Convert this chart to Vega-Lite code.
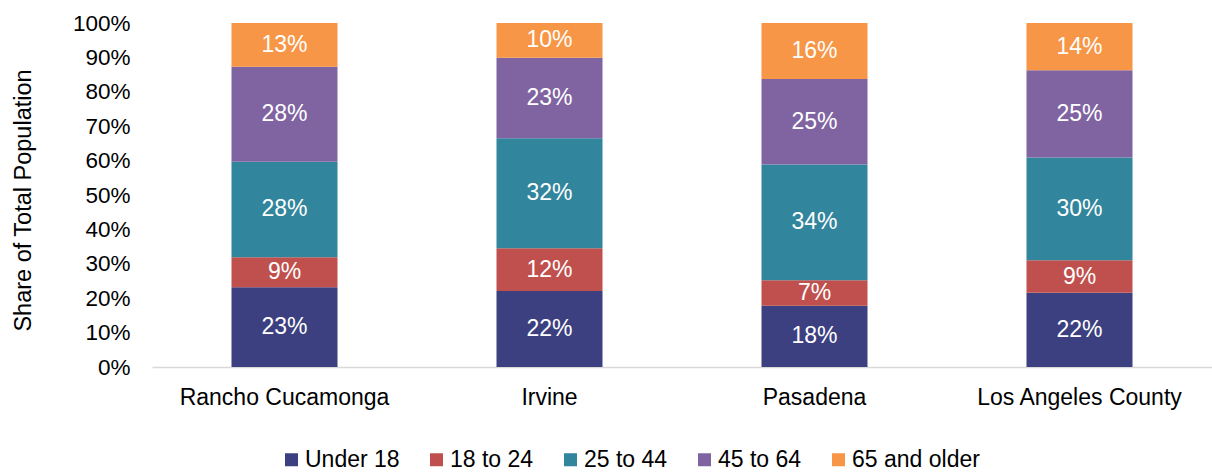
{
  "$schema": "https://vega.github.io/schema/vega-lite/v6.json",
  "width": 1060,
  "height": 344,
  "autosize": {"type": "none"},
  "padding": {"left": 152, "top": 23, "right": 0, "bottom": 105},
  "background": "white",
  "config": {
    "font": "Liberation Sans",
    "view": {"stroke": null},
    "axisY": {
      "title": "Share of Total Population",
      "titleFontSize": 23.5,
      "titleFontWeight": "normal",
      "titleColor": "#000000",
      "titleAngle": -90,
      "titleX": -122,
      "titleY": 177,
      "titleAlign": "center",
      "titleBaseline": "alphabetic",
      "labelFontSize": 22.5,
      "labelColor": "#000000",
      "labelPadding": 22,
      "labelOverlap": false,
      "ticks": false,
      "domain": false,
      "grid": false
    }
  },
  "data": {
    "values": [
      {"place": "Rancho Cucamonga", "age": "Under 18", "rank": 0, "share": 0.232},
      {"place": "Rancho Cucamonga", "age": "18 to 24", "rank": 1, "share": 0.087},
      {"place": "Rancho Cucamonga", "age": "25 to 44", "rank": 2, "share": 0.278},
      {"place": "Rancho Cucamonga", "age": "45 to 64", "rank": 3, "share": 0.276},
      {"place": "Rancho Cucamonga", "age": "65 and older", "rank": 4, "share": 0.127},
      {"place": "Irvine", "age": "Under 18", "rank": 0, "share": 0.221},
      {"place": "Irvine", "age": "18 to 24", "rank": 1, "share": 0.124},
      {"place": "Irvine", "age": "25 to 44", "rank": 2, "share": 0.320},
      {"place": "Irvine", "age": "45 to 64", "rank": 3, "share": 0.234},
      {"place": "Irvine", "age": "65 and older", "rank": 4, "share": 0.101},
      {"place": "Pasadena", "age": "Under 18", "rank": 0, "share": 0.178},
      {"place": "Pasadena", "age": "18 to 24", "rank": 1, "share": 0.074},
      {"place": "Pasadena", "age": "25 to 44", "rank": 2, "share": 0.337},
      {"place": "Pasadena", "age": "45 to 64", "rank": 3, "share": 0.248},
      {"place": "Pasadena", "age": "65 and older", "rank": 4, "share": 0.163},
      {"place": "Los Angeles County", "age": "Under 18", "rank": 0, "share": 0.216},
      {"place": "Los Angeles County", "age": "18 to 24", "rank": 1, "share": 0.094},
      {"place": "Los Angeles County", "age": "25 to 44", "rank": 2, "share": 0.299},
      {"place": "Los Angeles County", "age": "45 to 64", "rank": 3, "share": 0.254},
      {"place": "Los Angeles County", "age": "65 and older", "rank": 4, "share": 0.137}
    ]
  },
  "encoding": {
    "x": {
      "field": "place",
      "type": "nominal",
      "sort": ["Rancho Cucamonga", "Irvine", "Pasadena", "Los Angeles County"],
      "scale": {"paddingInner": 0.6, "paddingOuter": 0.3},
      "axis": {
        "title": null,
        "labelAngle": 0,
        "labelFontSize": 23,
        "labelColor": "#000000",
        "labelPadding": 19,
        "labelLimit": 400,
        "ticks": false,
        "domainColor": "#D9D9D9",
        "domainWidth": 1.5
      }
    },
    "order": {"field": "rank", "type": "quantitative"}
  },
  "layer": [
    {
      "mark": {"type": "bar"},
      "encoding": {
        "y": {
          "field": "share",
          "type": "quantitative",
          "stack": "zero",
          "scale": {"domain": [0, 1]},
          "axis": {
            "title": "Share of Total Population",
            "values": [0, 0.1, 0.2, 0.3, 0.4, 0.5, 0.6, 0.7, 0.8, 0.9, 1],
            "format": ".0%",
            "labelOverlap": false
          }
        },
        "color": {
          "field": "age",
          "type": "nominal",
          "scale": {
            "domain": ["Under 18", "18 to 24", "25 to 44", "45 to 64", "65 and older"],
            "range": ["#3C4080", "#C0504D", "#31859C", "#8064A2", "#F79646"]
          },
          "legend": {
            "title": null,
            "orient": "none",
            "direction": "horizontal",
            "legendX": 128,
            "legendY": 425,
            "padding": 0,
            "symbolType": "square",
            "symbolSize": 169,
            "symbolStrokeWidth": 0,
            "labelFontSize": 23,
            "labelColor": "#000000",
            "labelOffset": 2,
            "labelLimit": 400,
            "columnPadding": 25
          }
        }
      }
    },
    {
      "mark": {"type": "text", "color": "white", "fontSize": 23, "baseline": "middle", "align": "center"},
      "encoding": {
        "y": {
          "field": "share",
          "type": "quantitative",
          "stack": "zero",
          "bandPosition": 0.5,
          "axis": {
            "title": "Share of Total Population",
            "values": [0, 0.1, 0.2, 0.3, 0.4, 0.5, 0.6, 0.7, 0.8, 0.9, 1],
            "format": ".0%",
            "labelOverlap": false
          }
        },
        "text": {"field": "share", "type": "quantitative", "format": ".0%"}
      }
    }
  ]
}
